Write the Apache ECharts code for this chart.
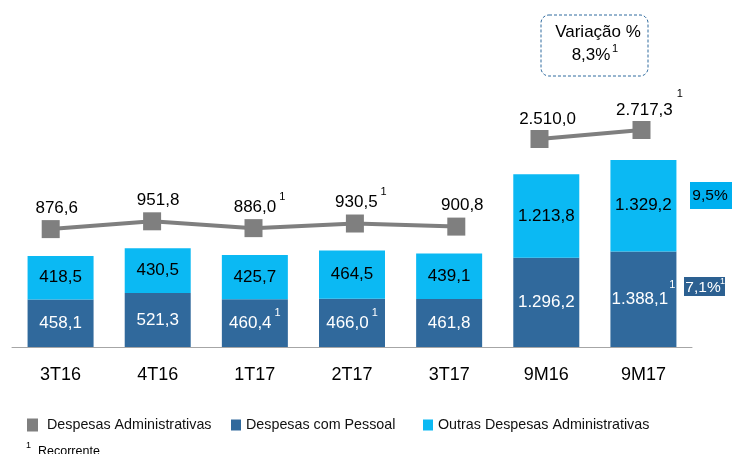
<!DOCTYPE html>
<html>
<head>
<meta charset="utf-8">
<script src="https://cdn.jsdelivr.net/npm/echarts@6/dist/echarts.min.js"></script>
<style>
  html, body { margin: 0; padding: 0; background: #fff; }
  #grafico { width: 734px; height: 454px; }
</style>
</head>
<body>
<div id="grafico"></div>
<script>
// dados
const categorias = ['3T16', '4T16', '1T17', '2T17', '3T17', '9M16', '9M17'];
const pessoal = [458.1, 521.3, 460.4, 466.0, 461.8, 1296.2, 1388.1];
const outras = [418.5, 430.5, 425.7, 464.5, 439.1, 1213.8, 1329.2];
const totais = [876.6, 951.8, 886.0, 930.5, 900.8, 2510.0, 2717.3];
// ¹ = recorrente
const pessoalRec = [false, false, true, true, false, false, true];
const totaisRec = [false, false, true, true, false, false, true];
const nTrim = 5; // trimestres; o resto são acumulados 9M
const variacaoTotal = '8,3%';
const variacaoOutras = '9,5%';
const variacaoPessoal = '7,1%';

const FONTE = 'Liberation Sans, Arial, sans-serif';
const AZUL = '#30699C';
const CIANO = '#0BB9F3';
const CINZA = '#7F7F7F';

function fmt(v) {
  const partes = v.toFixed(1).split('.');
  return partes[0].replace(/\B(?=(\d{3})+(?!\d))/g, '.') + ',' + partes[1];
}

// rótulo com "1" sobrescrito quando recorrente
function rotulo(rec, desloc) {
  return function (p) {
    let s = '{v|' + fmt(p.value) + '}';
    if (rec && rec[p.dataIndex + desloc]) s += '{s|1}';
    return s;
  };
}
function rich(cor, alt, gap) {
  return {
    v: { fontSize: 17, lineHeight: alt, color: cor, fontFamily: FONTE },
    s: { fontSize: 11, height: 1, verticalAlign: 'top', padding: [0, 0, 0, gap], color: cor, fontFamily: FONTE }
  };
}

const soTrim = arr => arr.map((v, i) => (i < nTrim ? v : '-'));
const so9M = arr => arr.map((v, i) => (i >= nTrim ? v : '-'));

const chart = echarts.init(document.getElementById('grafico'));

const option = {
  animation: false,
  grid: [
    { left: 12, right: 42, top: 80, bottom: 107 },      // barras
    { left: -3, right: 227, top: 53, bottom: 134 },     // linha trimestral
    { left: 488.5, right: 41.5, top: 48, bottom: 205.8 } // linha 9M
  ],
  legend: [
    { data: ['Despesas Administrativas'], left: 22, top: 413, icon: 'rect', itemWidth: 11, itemHeight: 13,
      textStyle: { fontSize: 14.3, color: '#111', fontFamily: FONTE, padding: [0, 0, 0, 4] } },
    { data: ['Despesas com Pessoal'], left: 226, top: 413, icon: 'rect', itemWidth: 10, itemHeight: 11,
      textStyle: { fontSize: 14.3, color: '#111', fontFamily: FONTE } },
    { data: ['Outras Despesas Administrativas'], left: 418, top: 413, icon: 'rect', itemWidth: 10, itemHeight: 11,
      textStyle: { fontSize: 14.3, color: '#111', fontFamily: FONTE } }
  ],
  xAxis: [
    {
      type: 'category', gridIndex: 0, data: categorias,
      axisLine: { lineStyle: { color: '#A6A6A6' } },
      axisTick: { length: 6, lineStyle: { color: '#A6A6A6' } },
      axisLabel: { fontSize: 18, color: '#000', fontFamily: FONTE, margin: 19 }
    },
    { type: 'category', gridIndex: 1, data: categorias.slice(0, nTrim), show: false },
    { type: 'category', gridIndex: 2, data: categorias.slice(nTrim), show: false }
  ],
  yAxis: [
    { type: 'value', gridIndex: 0, min: 0, max: 2575, show: false, splitLine: { show: false } },
    { type: 'value', gridIndex: 0, min: 0, max: 3881, show: false, splitLine: { show: false } },
    { type: 'value', gridIndex: 1, min: 0, max: 2575, show: false, splitLine: { show: false } },
    { type: 'value', gridIndex: 2, min: 0, max: 4602, show: false, splitLine: { show: false } }
  ],
  series: [
    {
      name: 'Despesas com Pessoal', type: 'bar', stack: 'trim', xAxisIndex: 0, yAxisIndex: 0,
      data: soTrim(pessoal), barWidth: 66, barGap: '-100%',
      itemStyle: { color: AZUL },
      label: { show: true, position: 'inside', formatter: rotulo(pessoalRec, 0), rich: rich('#fff', 21, 3) }
    },
    {
      name: 'Outras Despesas Administrativas', type: 'bar', stack: 'trim', xAxisIndex: 0, yAxisIndex: 0,
      data: soTrim(outras), barWidth: 66, barGap: '-100%',
      itemStyle: { color: CIANO },
      label: { show: true, position: 'inside', formatter: rotulo(null, 0), rich: rich('#000', 20, 0) }
    },
    {
      name: 'Despesas com Pessoal', type: 'bar', stack: 'acum', xAxisIndex: 0, yAxisIndex: 1,
      data: so9M(pessoal), barWidth: 66, barGap: '-100%',
      itemStyle: { color: AZUL },
      label: { show: true, position: 'inside', formatter: rotulo(pessoalRec, 0), rich: rich('#fff', 29, 1) }
    },
    {
      name: 'Outras Despesas Administrativas', type: 'bar', stack: 'acum', xAxisIndex: 0, yAxisIndex: 1,
      data: so9M(outras), barWidth: 66, barGap: '-100%',
      itemStyle: { color: CIANO },
      label: { show: true, position: 'inside', formatter: rotulo(null, 0), rich: rich('#000', 20, 0) }
    },
    {
      name: 'Despesas Administrativas', type: 'line', xAxisIndex: 1, yAxisIndex: 2,
      data: totais.slice(0, nTrim),
      symbol: 'rect', symbolSize: 18,
      lineStyle: { color: CINZA, width: 4 },
      itemStyle: { color: CINZA },
      label: { show: true, position: 'top', distance: 0, offset: [6, -1], formatter: rotulo(totaisRec, 0), rich: rich('#000', 22, 3) }
    },
    {
      name: 'Despesas Administrativas', type: 'line', xAxisIndex: 2, yAxisIndex: 3,
      data: totais.slice(nTrim),
      symbol: 'rect', symbolSize: 18,
      lineStyle: { color: CINZA, width: 4 },
      itemStyle: { color: CINZA },
      label: { show: true, position: 'top', distance: 0, offset: [8, 5.5], formatter: rotulo(totaisRec, nTrim), rich: rich('#000', 33, 4) }
    }
  ],
  graphic: [
    // caixa da variação total
    { type: 'rect', shape: { x: 541, y: 15, width: 107, height: 61, r: 8 },
      style: { fill: '#fff', stroke: '#2E6A9E', lineWidth: 1, lineDash: [3, 2] } },
    { type: 'text', x: 598, y: 32, style: { text: 'Variação %', font: '17px ' + FONTE, fill: '#000', align: 'center', verticalAlign: 'middle' } },
    { type: 'text', x: 591, y: 55, style: { text: variacaoTotal, font: '17px ' + FONTE, fill: '#000', align: 'center', verticalAlign: 'middle' } },
    { type: 'text', x: 612, y: 49, style: { text: '1', font: '11px ' + FONTE, fill: '#000', align: 'left', verticalAlign: 'middle' } },
    // variações 9M17 x 9M16
    { type: 'rect', shape: { x: 690, y: 182, width: 42, height: 27 }, style: { fill: '#00B0F0' } },
    { type: 'text', x: 710, y: 196, style: { text: variacaoOutras, font: '15.5px ' + FONTE, fill: '#000', align: 'center', verticalAlign: 'middle' } },
    { type: 'rect', shape: { x: 684, y: 277, width: 41, height: 19 }, style: { fill: '#2C6091' } },
    { type: 'text', x: 703, y: 288, style: { text: variacaoPessoal, font: '15.5px ' + FONTE, fill: '#fff', align: 'center', verticalAlign: 'middle' } },
    { type: 'text', x: 720, y: 282, style: { text: '1', font: '9px ' + FONTE, fill: '#fff', align: 'left', verticalAlign: 'middle' } },
    // nota de rodapé
    { type: 'text', x: 26, y: 446, style: { text: '1', font: '9px ' + FONTE, fill: '#000', align: 'left', verticalAlign: 'middle' } },
    { type: 'text', x: 38, y: 445, style: { text: 'Recorrente', font: '12.5px ' + FONTE, fill: '#000', align: 'left', verticalAlign: 'top' } }
  ]
};

chart.setOption(option);
</script>
</body>
</html>
